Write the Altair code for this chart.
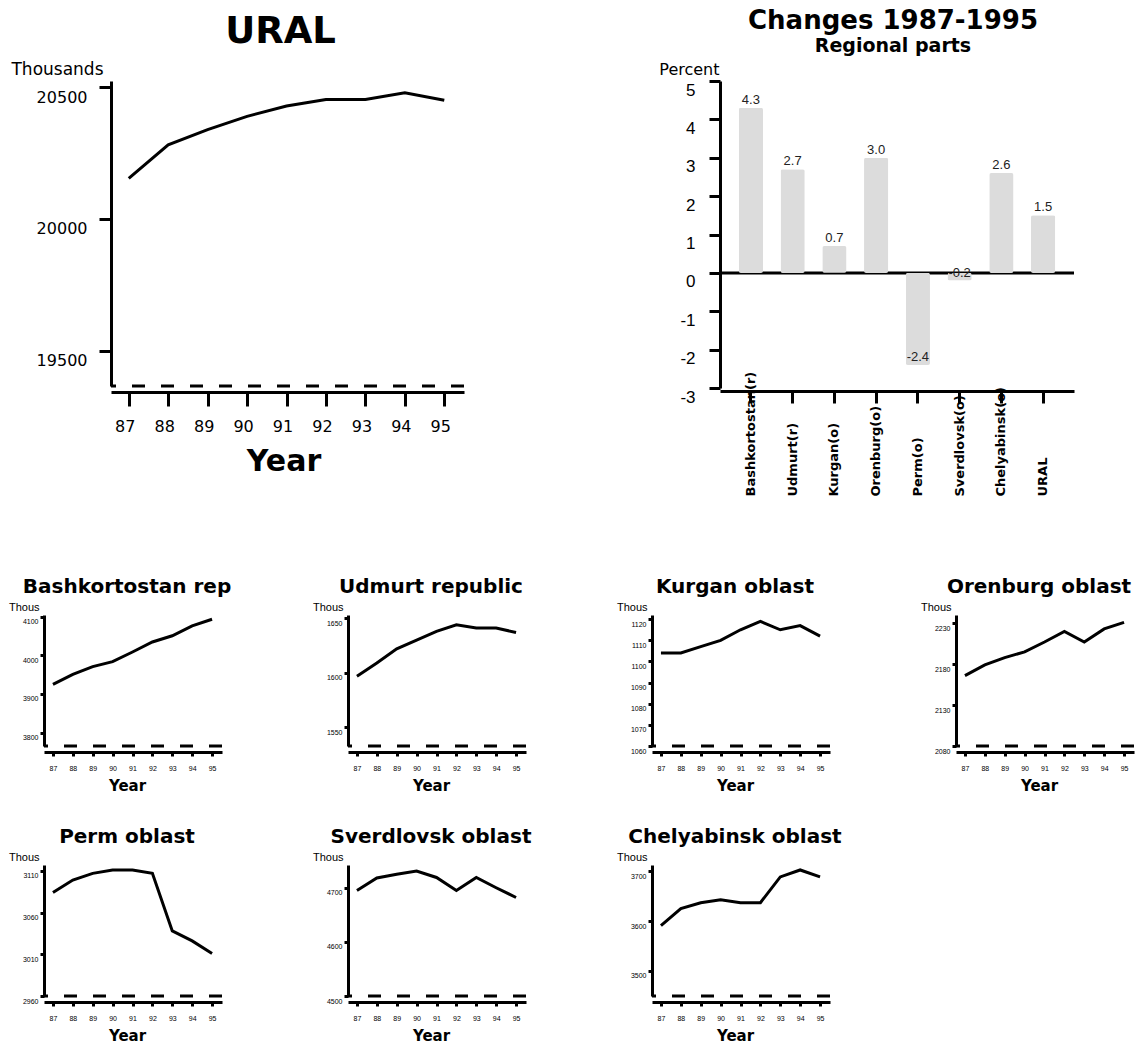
import altair as alt
import pandas as pd

# ---------------- data ----------------
years = [87, 88, 89, 90, 91, 92, 93, 94, 95]

ural_pop = [20154, 20281, 20339, 20389, 20428, 20453, 20453, 20478, 20450]
bash_pop = [3925, 3951, 3971, 3984, 4009, 4035, 4051, 4077, 4094]
udm_pop = [1597, 1609, 1622, 1630, 1638, 1644, 1641, 1641, 1637]
kur_pop = [1104, 1104, 1107, 1110, 1115, 1119, 1115, 1117, 1112]
ore_pop = [2166, 2179, 2188, 2195, 2207, 2220, 2207, 2223, 2231]
perm_pop = [3084, 3099, 3107, 3111, 3111, 3107, 3038, 3026, 3011]
sve_pop = [4695, 4718, 4725, 4731, 4719, 4695, 4719, 4700, 4682]
che_pop = [3591, 3625, 3637, 3643, 3637, 3637, 3689, 3703, 3689]

ural_domain = [19367, 20523]
ural_ticks = [19500, 20000, 20500]

small_titles = ["Bashkortostan rep", "Udmurt republic", "Kurgan oblast", "Orenburg oblast",
                "Perm oblast", "Sverdlovsk oblast", "Chelyabinsk oblast"]
small_values = [bash_pop, udm_pop, kur_pop, ore_pop, perm_pop, sve_pop, che_pop]
small_domains = [[3765, 4105], [1533, 1653], [1060, 1122], [2080, 2240],
                 [2960, 3117], [4500, 4742], [3449, 3713]]
small_ticks = [[3800, 3900, 4000, 4100], [1550, 1600, 1650],
               [1060, 1070, 1080, 1090, 1100, 1110, 1120], [2080, 2130, 2180, 2230],
               [2960, 3010, 3060, 3110], [4500, 4600, 4700], [3500, 3600, 3700]]

bar_regions = ["Bashkortostan(r)", "Udmurt(r)", "Kurgan(o)", "Orenburg(o)",
               "Perm(o)", "Sverdlovsk(o)", "Chelyabinsk(o)", "URAL"]
bar_changes = [4.3, 2.7, 0.7, 3.0, -2.4, -0.2, 2.6, 1.5]
bar_ticks = [-3, -2, -1, 0, 1, 2, 3, 4, 5]
year_domain = [86.55, 95.5]

TF = "DejaVu Sans"
LF = "Liberation Sans"


def line_panel(values, title, y_dom, y_ticks, y_title, W, H, big):
    df = pd.DataFrame({"year": years, "pop": values})
    base_df = pd.DataFrame({"pop": [y_dom[0]]})
    xs = alt.Scale(domain=year_domain, nice=False, zero=False)
    ys = alt.Scale(domain=y_dom, nice=False, zero=False)
    if big:
        yaxis = alt.Axis(values=y_ticks, format="d", labelFont=TF, labelFontSize=16,
                         labelBaseline="top", labelOffset=2,
                         tickSize=12, tickWidth=3, domainWidth=3, labelPadding=12,
                         labelFlush=False, titleAngle=0, titleAlign="right",
                         titleBaseline="alphabetic", titleX=-8, titleY=-7, titleFont=TF,
                         titleFontSize=17, titleFontWeight="normal")
        xaxis = alt.Axis(values=years, format="d", offset=6, domainWidth=3, tickWidth=3,
                         tickSize=14, labelPadding=12, labelFont=TF, labelFontSize=16,
                         labelOffset=-4, labelFlush=False, titleFont=TF, titleFontSize=30,
                         titleFontWeight="bold", titlePadding=12, titleX=W / 2 - 4)
        tparams = alt.TitleParams(title, font=TF, fontSize=37, fontWeight="bold",
                                  anchor="middle", frame="group", offset=9, dx=-7,
                                  color="black")
    else:
        yaxis = alt.Axis(values=y_ticks, format="d", labelFont=LF, labelFontSize=7,
                         labelBaseline="top", labelOffset=1,
                         tickSize=4, tickWidth=3, domainWidth=3, labelPadding=2,
                         labelFlush=False, titleAngle=0, titleAlign="right",
                         titleBaseline="alphabetic", titleX=-5, titleY=-5, titleFont=LF,
                         titleFontSize=11, titleFontWeight="normal")
        xaxis = alt.Axis(values=years, format="d", offset=6, domainWidth=3, tickWidth=3,
                         tickSize=4, labelPadding=8, labelFont=LF, labelFontSize=7,
                         labelFlush=False, titleFont=TF, titleFontSize=15,
                         titleFontWeight="bold", titlePadding=7, titleX=W / 2 - 6)
        tparams = alt.TitleParams(title, font=TF, fontSize=20, fontWeight="bold",
                                  anchor="middle", frame="group", offset=4, dx=-6,
                                  color="black")
    dash = alt.Chart(base_df).mark_rule(color="black", strokeWidth=3,
                                        strokeDash=[13, 16]).encode(
        y=alt.Y("pop:Q", scale=ys, axis=yaxis, title=y_title))
    line = alt.Chart(df).mark_line(color="black", strokeWidth=3).encode(
        x=alt.X("year:Q", scale=xs, axis=xaxis, title="Year"),
        y=alt.Y("pop:Q", scale=ys, axis=yaxis, title=y_title))
    return alt.layer(dash, line).properties(width=W, height=H, title=tparams)


def spacer(w):
    return alt.Chart(pd.DataFrame({"s": [0]})).mark_point(opacity=0, size=0).encode(
        x=alt.X("s:Q", axis=None), y=alt.Y("s:Q", axis=None)).properties(width=w, height=5)


ural = line_panel(ural_pop, "URAL", ural_domain, ural_ticks, "Thousands", 353, 305, True)

# ---------------- bar chart ----------------
bdf = pd.DataFrame({"region": bar_regions, "change": bar_changes,
                    "label": [f"{v:.1f}" for v in bar_changes]})
xb = alt.X("region:N", sort=None, title=None,
           scale=alt.Scale(paddingInner=0.42, paddingOuter=0.45),
           axis=alt.Axis(offset=3, domainWidth=3, tickWidth=3, tickSize=12,
                         labelAngle=270, labelAlign="left", labelBaseline="middle",
                         labelPadding=93, labelFont=TF, labelFontSize=13,
                         labelFontWeight="bold", labelOverlap=False))
ys_b = alt.Scale(domain=[-3, 5], nice=False, zero=False)
yaxis_b = alt.Axis(values=bar_ticks, labelExpr="datum.value + ''", labelFont=LF,
                   labelFontSize=17, labelBaseline="top", labelOffset=1,
                   tickSize=11, tickWidth=3, domainWidth=3,
                   labelPadding=14, titleAngle=0, titleAlign="right",
                   titleBaseline="alphabetic", titleX=-1, titleY=-7, titleFont=TF,
                   titleFontSize=16, titleFontWeight="normal")
yb = alt.Y("change:Q", scale=ys_b, axis=yaxis_b, title="Percent")

zero = alt.Chart(pd.DataFrame({"change": [0]})).mark_rule(
    color="black", strokeWidth=3).encode(y=yb)
bars = alt.Chart(bdf).mark_bar(color="#dcdcdc", cornerRadius=2).encode(x=xb, y=yb)
labels = alt.Chart(bdf).mark_text(baseline="bottom", dy=-1, font=LF, fontSize=13,
                                  color="#222222").encode(x=xb, y=yb, text="label:N")
bar = alt.layer(zero, bars, labels).properties(
    width=354, height=307,
    title=alt.TitleParams("Changes 1987-1995", subtitle="Regional parts", font=TF,
                          fontSize=26, fontWeight="bold", subtitleFont=TF,
                          subtitleFontSize=19, subtitleFontWeight="bold",
                          subtitleColor="black", subtitlePadding=3, anchor="middle",
                          frame="group", offset=5, dx=-4, color="black"))

smalls = [line_panel(v, t, d, tk, "Thous", 178, 131, False)
          for v, t, d, tk in zip(small_values, small_titles, small_domains, small_ticks)]

row1 = alt.hconcat(spacer(67), ural, spacer(256), bar, spacing=0, bounds="flush")
row2 = alt.hconcat(*smalls[:4], spacing=126, bounds="flush")
row3 = alt.hconcat(*smalls[4:], spacing=126, bounds="flush")

chart = alt.vconcat(row1, alt.vconcat(row2, row3, spacing=34), spacing=81).properties(
    padding={"top": 0, "left": 0, "right": 0, "bottom": 0}
).configure_view(stroke=None).configure_axis(
    grid=False, domainColor="black", tickColor="black", labelColor="black",
    titleColor="black")

chart.save("out.html", embed_options={"renderer": "svg", "actions": False})
